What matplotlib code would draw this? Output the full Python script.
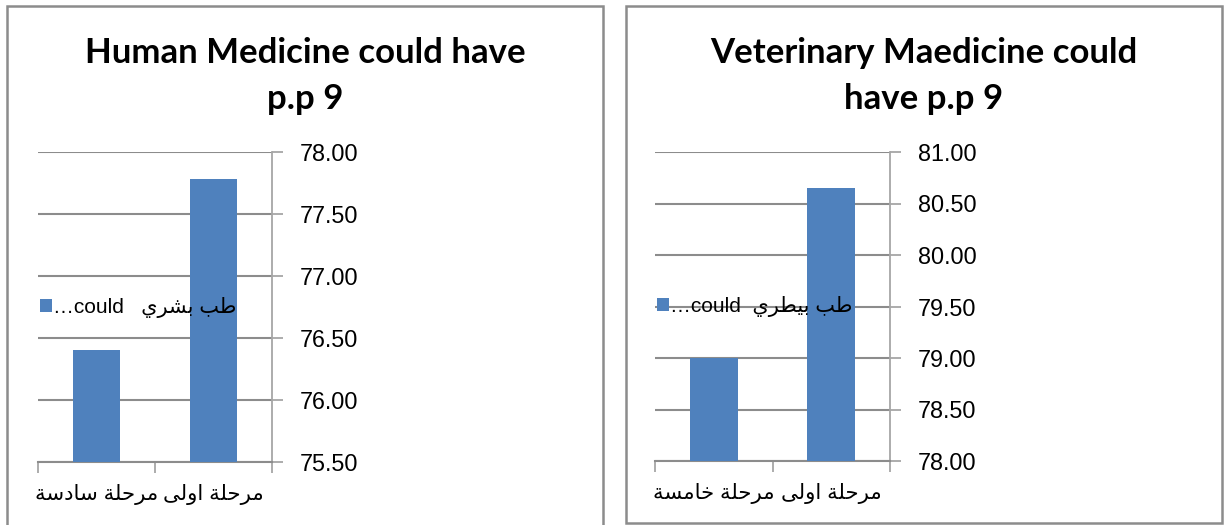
import matplotlib.pyplot as plt
from matplotlib.patches import Rectangle

W, H = 1224, 525
BLUE = "#4F81BD"
GRID = "#8C8C8C"
AXIS = "#A6A6A6"

# Arabic text is written in presentation forms, visual (left-to-right) order,
# since matplotlib does no shaping of its own.
# "مرحلة اولى"
STAGE_1 = "\ufef0\ufedf\ufeed\ufe8d \ufe94\ufee0\ufea3\ufeae\ufee3"
# "مرحلة سادسة"
STAGE_6 = "\ufe94\ufeb3\ufea9\ufe8e\ufeb3 \ufe94\ufee0\ufea3\ufeae\ufee3"
# "مرحلة خامسة"
STAGE_5 = "\ufe94\ufeb4\ufee3\ufe8e\ufea7 \ufe94\ufee0\ufea3\ufeae\ufee3"
# "طب بشري" / "طب بيطري"
HUMAN_AR = "\ufef1\ufeae\ufeb8\ufe91 \ufe90\ufec3"
VET_AR = "\ufef1\ufeae\ufec4\ufef4\ufe91 \ufe90\ufec3"

# first category sits on the right (right-to-left chart)
human_categories = [STAGE_1, STAGE_6]
human_values = [77.78, 76.40]
human_ticks = [75.5, 76.0, 76.5, 77.0, 77.5, 78.0]
human_series = "\u2026could   " + HUMAN_AR
human_title = "Human Medicine could have\np.p 9"

vet_categories = [STAGE_1, STAGE_5]
vet_values = [80.65, 79.00]
vet_ticks = [78.0, 78.5, 79.0, 79.5, 80.0, 80.5, 81.0]
vet_series = "\u2026could  " + VET_AR
vet_title = "Veterinary Maedicine could\nhave p.p 9"

FONTS = ["Liberation Sans", "DejaVu Sans"]


def px_rect(left, top, right, bottom):
    return [left / W, 1 - bottom / H, (right - left) / W, (bottom - top) / H]


def draw_panel(fig, frame, box, categories, values, ticks, series, title):
    left, top, right, bottom = frame
    fig.patches.append(Rectangle((left / W, 1 - bottom / H), (right - left) / W, (bottom - top) / H,
                                 transform=fig.transFigure, fill=False, edgecolor=GRID, lw=1.8))
    fig.text((left + right) / 2 / W, 1 - 76 / H, title, ha="center", va="center",
             fontsize=25, fontweight="bold", family="Lato", linespacing=1.56)

    ax = fig.add_axes(px_rect(*box))
    x = range(len(categories))
    ax.bar(x, values, width=0.41, color=BLUE, label=series, zorder=3)
    ax.set_xlim(1.5, -0.5)
    ax.set_ylim(ticks[0], ticks[-1])
    ax.set_yticks(ticks)
    ax.set_yticklabels([f"{t:.2f}" for t in ticks], family=FONTS, fontsize=16.8)
    ax.yaxis.tick_right()
    ax.tick_params(axis="y", length=8, width=1.3, color=AXIS, pad=12)
    ax.grid(axis="y", color=GRID, lw=1.5, zorder=0)

    ax.set_xticks(list(x))
    ax.set_xticklabels(categories, family=FONTS, fontsize=15.3)
    ax.tick_params(axis="x", length=0, pad=16)
    ax.set_xticks([-0.5, 0.5, 1.5], minor=True)
    ax.tick_params(axis="x", which="minor", length=8, width=1.3, color=AXIS)

    for side in ("left", "top"):
        ax.spines[side].set_visible(False)
    ax.spines["right"].set_color(AXIS)
    ax.spines["right"].set_linewidth(1.3)
    ax.spines["bottom"].set_color(GRID)
    ax.spines["bottom"].set_linewidth(1.5)

    ax.legend(loc="center left", bbox_to_anchor=(0.008, 0.5), frameon=False,
              handlelength=0.6, handleheight=0.6, handletextpad=0.05,
              borderaxespad=0, borderpad=0, prop={"family": FONTS, "size": 15})
    return ax


fig = plt.figure(figsize=(W / 100, H / 100), dpi=100)
draw_panel(fig, (7, 6, 603, 540), (38, 152, 272, 462),
           human_categories, human_values, human_ticks, human_series, human_title)
draw_panel(fig, (626, 6, 1222, 523), (655, 152, 890, 461),
           vet_categories, vet_values, vet_ticks, vet_series, vet_title)

fig.savefig("out.png", dpi=100)
